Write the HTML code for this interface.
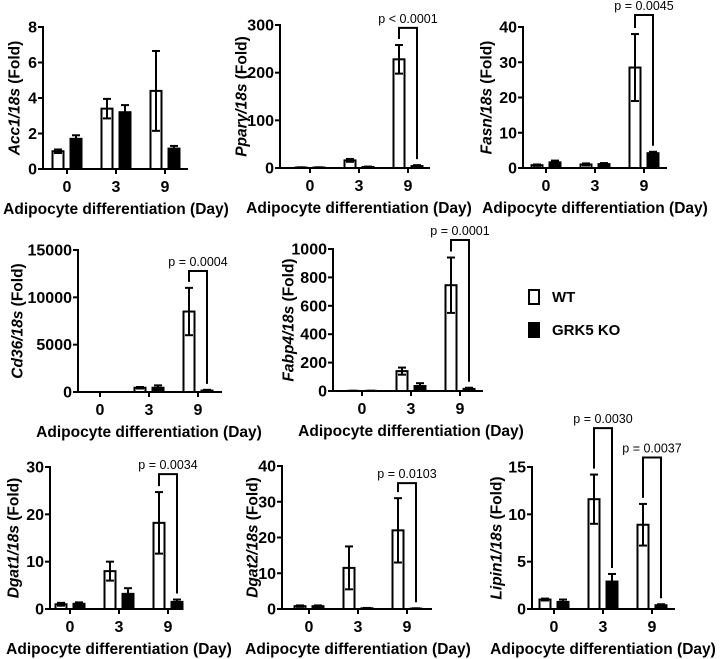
<!DOCTYPE html>
<html><head><meta charset="utf-8"><style>
body{margin:0;background:#fff}
svg{display:block;font-family:"Liberation Sans",Arial,sans-serif}
svg text{font-weight:bold}
svg text.p{font-weight:normal}
</style></head><body>
<svg id="c" width="720" height="659"></svg>
<script>
const groups = ["0","3","9"];
const panelNames = ["Acc1","Ppar\u03b3","Fasn","Cd36","Fabp4","Dgat1","Dgat2","Lipin1"];
const wtVals = [[1.0,3.4,4.4],[1,16,228],[0.8,1,28.5],[0,450,8500],[1,140,745],[1,8,18.2],[0.8,11.5,22],[1,11.6,8.9]];
const wtErr = [[0.1,0.55,2.25],[0.5,3,30],[0.2,0.3,9.5],[0,80,2500],[1,25,195],[0.3,2,6.5],[0.2,6,9],[0.1,2.6,2.2]];
const koVals = [[1.7,3.2,1.15],[1,2,4],[1.6,1.1,4.2],[0,450,150],[1,35,15],[1.1,3.2,1.5],[0.8,0.2,0.1],[0.75,2.9,0.4]];
const koErr = [[0.2,0.4,0.15],[0.5,1,2],[0.5,0.3,0.4],[0,250,80],[1,20,8],[0.3,1.2,0.5],[0.2,0.1,0.1],[0.25,0.8,0.1]];
const yMax = [8,300,40,15000,1000,30,40,15];
const yTicks = [[0,2,4,6,8],[0,100,200,300],[0,10,20,30,40],[0,5000,10000,15000],[0,200,400,600,800,1000],[0,10,20,30],[0,10,20,30,40],[0,5,10,15]];
const pLabels = [[],[["p < 0.0001",2,294]],[["p = 0.0045",2,43.4]],[["p = 0.0004",2,12780]],[["p = 0.0001",2,1063]],[["p = 0.0034",2,28.5]],[["p = 0.0103",2,35.2]],[["p = 0.0030",1,19.1],["p = 0.0037",2,16]]];
// layout: axis x, top y, bottom y, ylabel x, first group x, x-axis end
const layout = [[43,27,169,14,67,188],[280,25,168,241,310,430],[523,27,168,486,546,667],[78,250,392,17,100,222],[333,249,391,288,362,483],[50,467,609,13,70,180],[282,466,609,252,309,432],[532,467,609,496,554,675]];
const NS="http://www.w3.org/2000/svg", svg=document.getElementById('c');
function mk(t,a,p){const e=document.createElementNS(NS,t);for(const k in a)e.setAttribute(k,a[k]);(p||svg).appendChild(e);return e;}
panelNames.forEach((nm,i)=>{
  const [ax,top,bot,ylx,g0,xend]=layout[i];
  const g=mk('g',{});
  
  
  const y=v=>bot-(v/yMax[i])*(bot-top);
  const gx=k=>g0+k*49;
  const ya=mk('line',{x1:ax,y1:top-1,x2:ax,y2:bot+1,stroke:'#000','stroke-width':2},g);
  
  const xa=mk('line',{x1:ax-1,y1:bot,x2:xend,y2:bot,stroke:'#000','stroke-width':2},g);
  
  yTicks[i].forEach(t=>{
    mk('line',{x1:ax-5,y1:y(t),x2:ax,y2:y(t),stroke:'#000','stroke-width':2},g);
    const tx=mk('text',{x:ax-6,y:y(t)+5.5,'text-anchor':'end','font-size':16},g);tx.textContent=t;
    
  });
  groups.forEach((gl,k)=>{
    mk('line',{x1:gx(k),y1:bot,x2:gx(k),y2:bot+5,stroke:'#000','stroke-width':2},g);
    const tx=mk('text',{x:gx(k),y:bot+23,'text-anchor':'middle','font-size':16},g);tx.textContent=gl;
    
    [[wtVals,wtErr,-9,'#fff','wt'],[koVals,koErr,9,'#000','ko']].forEach(([V,E,off,fill,s])=>{
      const v=V[i][k],e=E[i][k],cx=gx(k)+off;
      const r=mk('rect',{x:cx-5.5,y:y(v),width:11,height:Math.max(0,bot-y(v)),fill:fill,stroke:'#000','stroke-width':2},g);
      
      if(e>0){
        const lo=s==='wt'?v-e:v;
        mk('line',{x1:cx,y1:y(v+e),x2:cx,y2:y(Math.max(0,lo)),stroke:'#000','stroke-width':2},g);
        mk('line',{x1:cx-4,y1:y(v+e),x2:cx+4,y2:y(v+e),stroke:'#000','stroke-width':2},g);
        if(s==='wt')mk('line',{x1:cx-4,y1:y(Math.max(0,lo)),x2:cx+4,y2:y(Math.max(0,lo)),stroke:'#000','stroke-width':2},g);
      }
    });
  });
  pLabels[i].forEach(([lab,k,lv])=>{
    const by=y(lv),x1=gx(k)-9,x2=gx(k)+9;
    const wtTop=y(wtVals[i][k]+wtErr[i][k])-6,koTop=y(koVals[i][k]+koErr[i][k])-6;
    const pth=mk('path',{d:`M${x1},${wtTop}V${by}H${x2}V${koTop}`,fill:'none',stroke:'#000','stroke-width':2},g);
    
    const tx=mk('text',{x:gx(k),y:by-5,'text-anchor':'middle','font-size':12.5,'class':'p'},g);tx.textContent=lab;
    
  });
  const cy=(top+bot)/2;
  const yl=mk('text',{x:ylx,y:cy,'text-anchor':'middle','font-size':15.5,transform:`rotate(-90 ${ylx} ${cy})`,dy:5.5},g);
  
  const it=mk('tspan',{'font-style':'italic'},yl);it.textContent=nm+'/18s';
  const t2=mk('tspan',{},yl);t2.textContent=' (Fold)';
  const xl=mk('text',{x:gx(1),y:bot+45,'text-anchor':'middle','font-size':15.5},g);xl.textContent='Adipocyte differentiation (Day)';
  
});
const lg=mk('g',{});

mk('rect',{x:529,y:290,width:10,height:14,fill:'#fff',stroke:'#000','stroke-width':2},lg);
const l1=mk('text',{x:552,y:302,'font-size':15},lg);l1.textContent='WT';

mk('rect',{x:529,y:323,width:10,height:14,fill:'#000',stroke:'#000','stroke-width':2},lg);
const l2=mk('text',{x:552,y:335,'font-size':15},lg);l2.textContent='GRK5 KO';

</script>
</body></html>
